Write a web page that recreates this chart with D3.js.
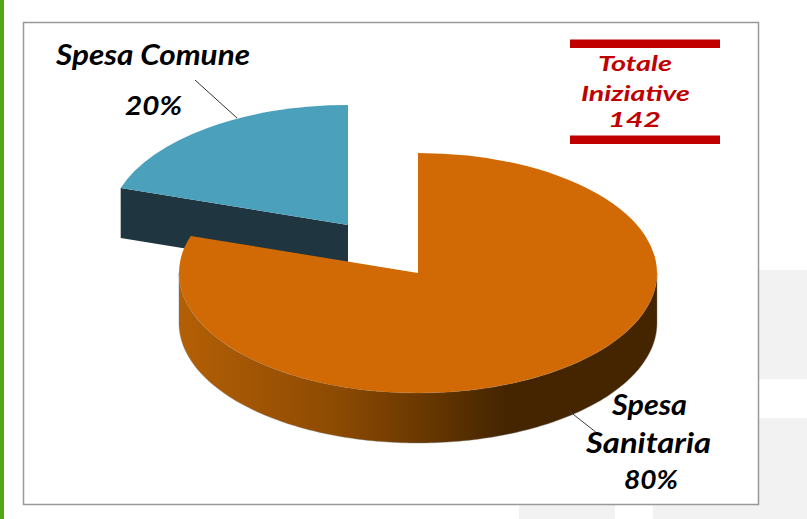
<!DOCTYPE html>
<html><head><meta charset="utf-8">
<script src="https://cdn.jsdelivr.net/npm/d3@7/dist/d3.min.js"></script>
<style>html,body{margin:0;padding:0;background:#fff}svg{display:block}
text{font-family:"Segoe Print","Lato",sans-serif;font-style:italic;font-weight:700}</style>
</head><body><svg id="c" width="807" height="519"></svg>
<script>
const categories=["Spesa Sanitaria","Spesa Comune"];
const shares=[80,20];
const colours=["#d16a05","#4ba1bc"];
const sideColour="#1f3640";
const wallStops=[[0,"#b45f05"],[0.32,"#8e4b03"],[0.5,"#6c3900"],[0.68,"#452500"],[1,"#452500"]];
const totalTitle=["Totale","Iniziative"];
const totalValue=142;

const svg=d3.select("#c");
const W=807,H=519;
svg.append("rect").attr("width",W).attr("height",H).attr("fill","#fff");
// page background
const bg=svg.append("g").attr("fill","#f2f2f2");
[[759,270,48,109],[759,418,48,101],[519,504,96,15],[653,504,154,15]].forEach(r=>
 bg.append("rect").attr("x",r[0]).attr("y",r[1]).attr("width",r[2]).attr("height",r[3]));
svg.append("rect").attr("x",0).attr("y",0).attr("width",4).attr("height",H).attr("fill","#4fa814");
svg.append("rect").attr("x",23.5).attr("y",22.5).attr("width",735).attr("height",482)
 .attr("fill","#fff").attr("stroke","#999").attr("stroke-width",1.5);

const rx=239,ratio=120/239,depth=50;
const centres=[[418,273],[348,225]];
const pie=d3.pie().sort(null).value(d=>d)(shares);
const arc=d3.arc().innerRadius(0).outerRadius(rx);
const ex=(a,c)=>c[0]+rx*Math.sin(a), ey=(a,c)=>c[1]-rx*ratio*Math.cos(a);

const defs=svg.append("defs");
const g=defs.append("linearGradient").attr("id","wall").attr("gradientUnits","userSpaceOnUse")
 .attr("x1",179).attr("x2",657).attr("y1",0).attr("y2",0);
wallStops.forEach(s=>g.append("stop").attr("offset",s[0]).attr("stop-color",s[1]));

// small slice: flat cut face, then top
const s1=pie[1],c1=centres[1];
const sideLine=d3.line();
svg.append("path").attr("fill",sideColour).attr("d",sideLine([
 [ex(s1.startAngle,c1),ey(s1.startAngle,c1)],c1,[c1[0],c1[1]+depth],
 [ex(s1.startAngle,c1),ey(s1.startAngle,c1)+depth]])+"Z");
svg.append("path").attr("fill",colours[1])
 .attr("transform",`translate(${c1}) scale(1,${ratio})`).attr("d",arc(s1));

// large slice: curved wall, then top
const s0=pie[0],c0=centres[0];
const angles=d3.range(Math.PI/2,3*Math.PI/2+.001,Math.PI/180);
const wall=d3.area().x(a=>ex(a,c0)).y0(a=>ey(a,c0)).y1(a=>ey(a,c0)+depth);
svg.append("path").attr("fill","url(#wall)").attr("stroke","#777").attr("stroke-width",.4).attr("d",wall(angles));
svg.append("path").attr("fill",colours[0])
 .attr("transform",`translate(${c0}) scale(1,${ratio})`).attr("d",arc(s0));

// leaders
const lead=svg.append("g").attr("stroke","#333").attr("stroke-width",1).attr("fill","none");
lead.append("line").attr("x1",195).attr("y1",80).attr("x2",237).attr("y2",118);
lead.append("line").attr("x1",569).attr("y1",411).attr("x2",597).attr("y2",433).attr("stroke","#3a3f44");

function label(t,x,w,y,fill,size){
 svg.append("text").text(t).attr("x",x).attr("y",y).attr("fill",fill).attr("font-size",size)
  .attr("textLength",w).attr("lengthAdjust","spacingAndGlyphs");
}
const sanW=categories[0].split(" ");
label(categories[1],56,194,65,"#000",28);
label(shares[1]+"%",125,57,115,"#000",26);
label(sanW[0],612,75,415,"#000",28);
label(sanW[1],586,125,453,"#000",28);
label(shares[0]+"%",624,54,489,"#000",26);

// total box
svg.append("rect").attr("x",570).attr("y",39.5).attr("width",150).attr("height",8.5).attr("fill","#c00000");
svg.append("rect").attr("x",570).attr("y",135.5).attr("width",150).attr("height",8.5).attr("fill","#c00000");
label(totalTitle[0],598,74,71,"#c00000",21);
label(totalTitle[1],581,109,101,"#c00000",21);
label(String(totalValue),608,53,127,"#c00000",21);
</script></body></html>
